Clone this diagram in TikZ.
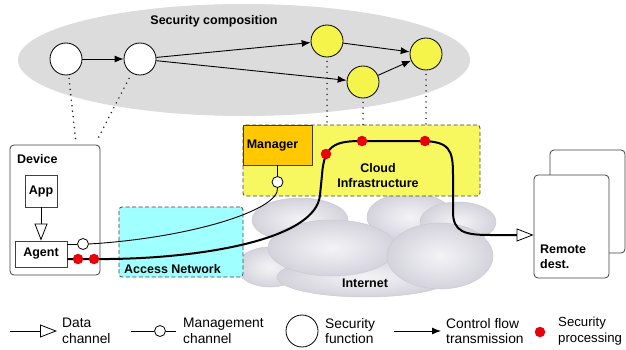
\documentclass[tikz,border=0pt]{standalone}
\usepackage{fontspec}
\setmainfont{Liberation Sans}
\usetikzlibrary{shapes.geometric,arrows.meta,calc}
\definecolor{compgray}{HTML}{DCDCDC}
\definecolor{sfyellow}{HTML}{F4F44A}
\definecolor{cloudyellow}{HTML}{F7F760}
\definecolor{mgrorange}{HTML}{FFC800}
\definecolor{accesscyan}{HTML}{A0FFFF}
\definecolor{dotred}{HTML}{E8000B}
\definecolor{bubin}{HTML}{F4F4F7}
\definecolor{bubout}{HTML}{D4D3DC}
\definecolor{bubline}{HTML}{CBCAD3}
\definecolor{boxline}{HTML}{404040}
\newcommand{\lblf}{\fontsize{12.5}{15}\selectfont\bfseries}
\newcommand{\legf}{\fontsize{13.8}{15.5}\selectfont}
\newcommand{\legsf}{\fontsize{13.2}{15.5}\selectfont}
\begin{document}
\begin{tikzpicture}[x=1pt,y=-1pt,
  lbl/.style={font=\lblf, inner sep=0pt, align=left},
  legtxt/.style={font=\legf, inner sep=0pt, align=left, anchor=west},
  secfn/.style={circle, draw=black, line width=0.8pt, minimum size=32pt, inner sep=0pt},
  ctrl/.style={-{Latex[length=9pt,width=7pt]}, line width=0.9pt},
  dotline/.style={line width=1.7pt, line cap=round, dash pattern=on 0pt off 5.5pt, black!85},
  datach/.style={line width=0.8pt, -{Triangle[open,length=17pt,width=13pt,line width=0.8pt]}},
  mgmtdot/.style={circle, draw=black, fill=white, line width=0.8pt, minimum size=11pt, inner sep=0pt},
  secdot/.style={circle, fill=dotred, minimum size=10.5pt, inner sep=0pt},
  plainbox/.style={draw=boxline, line width=0.8pt, fill=white, inner sep=0pt, font=\lblf},
  dashbox/.style={draw=boxline, line width=0.8pt, dash pattern=on 4pt off 2.5pt, rounded corners=3pt, inner sep=0pt},
  bubble/.style={inner color=bubin, outer color=bubout, draw=bubline, line width=0.5pt},
  mgline/.style={line width=0.9pt},
  ctrlthick/.style={line width=2pt, -{Triangle[open,length=17pt,width=13pt,line width=0.8pt]}}
]
\useasboundingbox (0,0) rectangle (626,350);

% security composition
\node[ellipse, fill=compgray, minimum width=452pt, minimum height=112pt, inner sep=0pt] (comp) at (244,60) {};
\node[lbl] (comptitle) at (214,21) {Security composition};
\node[secfn, fill=white] (sf1) at (66,59) {};
\node[secfn, fill=white] (sf2) at (140,59) {};
\node[secfn, fill=sfyellow] (sf3) at (327,41) {};
\node[secfn, fill=sfyellow] (sf4) at (363,82) {};
\node[secfn, fill=sfyellow] (sf5) at (426,54) {};
\draw[ctrl] (sf1) -- (sf2);
\draw[ctrl] (sf2) -- (sf3);
\draw[ctrl] (sf2) -- (sf4);
\draw[ctrl] (sf3) -- (sf5);
\draw[ctrl] (sf4) -- (sf5);

% internet cloud
\path[bubble] (410,217) ellipse [x radius=43, y radius=24];
\path[bubble] (300,220) ellipse [x radius=48, y radius=22];
\path[bubble] (458,222) ellipse [x radius=38, y radius=20];
\path[bubble] (270,267) ellipse [x radius=33, y radius=20];
\path[bubble] (365,277) ellipse [x radius=88, y radius=20];
\path[bubble] (332,248) ellipse [x radius=64, y radius=28];
\path[bubble] (440,256) ellipse [x radius=53, y radius=33];
\node[lbl] (inet) at (365,283) {Internet};

% cloud infrastructure
\node[dashbox, fill=cloudyellow, minimum width=237pt, minimum height=71pt] (cinf) at (361.5,160.5) {};
\node[lbl, align=center] (cinflbl) at (378,176) {Cloud\\Infrastructure};
\node[draw=boxline, line width=0.8pt, fill=mgrorange, minimum width=69pt, minimum height=40pt, inner sep=0pt] (mgr) at (277.5,145) {};
\node[lbl] (mgrlbl) at (272.5,146) {Manager};

% access network
\node[dashbox, fill=accesscyan, minimum width=124pt, minimum height=70pt] (acc) at (181,242) {};
\node[lbl, anchor=west] (acclbl) at (124,269) {Access Network};

% device
\node[draw=boxline, line width=0.8pt, rounded corners=4pt, fill=white, minimum width=90pt, minimum height=130pt] (dev) at (55,210) {};
\node[lbl, anchor=west] (devlbl) at (17,159) {Device};
\node[plainbox, minimum width=32pt, minimum height=32pt] (app) at (41,191) {App};
\node[plainbox, minimum width=52pt, minimum height=26pt] (agent) at (41,254) {Agent};
\draw[datach] (app) -- (agent);

% dotted mappings
\draw[dotline] ([xshift=3pt,yshift=-3pt]sf1.south) -- ([xshift=66pt,yshift=5pt]dev.north west);
\draw[dotline] ([xshift=-11pt,yshift=-3pt]sf2.south) -- ([xshift=-3pt,yshift=5pt]dev.north east);
\draw[dotline] ([yshift=-4pt]sf3.south) -- (sf3.south |- cinf.north);
\draw[dotline] ([yshift=-4pt]sf4.south) -- (sf4.south |- cinf.north);
\draw[dotline] ([yshift=-4pt]sf5.south) -- (sf5.south |- cinf.north);

% remote destination
\node[draw=boxline, line width=0.8pt, rounded corners=4pt, fill=white, minimum width=75pt, minimum height=103pt] (remback) at (587.5,201.5) {};
\node[draw=boxline, line width=0.8pt, rounded corners=4pt, fill=white, minimum width=75pt, minimum height=103pt] (rem) at (571.5,226.5) {};
\node[lbl, anchor=west] (remlbl) at (540,257) {Remote\\dest.};

% management channel
\node[mgmtdot] (mc1) at (83,244) {};
\node[mgmtdot] (mc2) at (277.5,182) {};
\draw[mgline] (agent.east |- mc1) -- (mc1);
\draw[mgline] (mgr.south) -- (mc2);
\draw[mgline] (mc1.east) .. controls (190,238) and (280,210) .. (mc2.south);

% control / data flow
\draw[ctrlthick] ([yshift=-5pt]agent.east) -- (110,259)
  .. controls (200,258) and (316,240) .. (320,195) -- (322,175)
  .. controls (324,145) and (335,141) .. (362,141) -- (420,141)
  .. controls (450,141) and (453,150) .. (453,175) -- (453,212)
  .. controls (453,232) and (465,235) .. (490,235) -- ([yshift=-8.5pt]rem.west);
\node[secdot] (spA) at (78,259) {};
\node[secdot] (spB) at (94,259) {};
\node[secdot] (spC) at (326,154) {};
\node[secdot] (spD) at (362,141) {};
\node[secdot] (spE) at (425,141) {};

% legend
\coordinate (l1a) at (10,331);
\coordinate (l1b) at (57,331);
\draw[datach] (l1a) -- (l1b);
\node[legtxt] (l1t) at (62,331) {Data\\channel};
\coordinate (l2a) at (131,331);
\node[mgmtdot] (l2c) at (160,331) {};
\coordinate (l2b) at (176,331);
\draw[mgline] (l2a) -- (l2c.west);
\draw[mgline] (l2c.east) -- (l2b);
\node[legtxt] (l2t) at (183,331) {Management\\channel};
\node[secfn, fill=white] (l3c) at (302,331) {};
\node[legtxt] (l3t) at (325,331) {Security\\function};
\coordinate (l4a) at (394,331);
\coordinate (l4b) at (441,331);
\draw[ctrl] (l4a) -- (l4b);
\node[legtxt] (l4t) at (446,331) {Control flow\\transmission};
\node[secdot] (l5d) at (540,332) {};
\node[legtxt, font=\legsf] (l5t) at (558,331) {Security\\processing};
\end{tikzpicture}
\end{document}
